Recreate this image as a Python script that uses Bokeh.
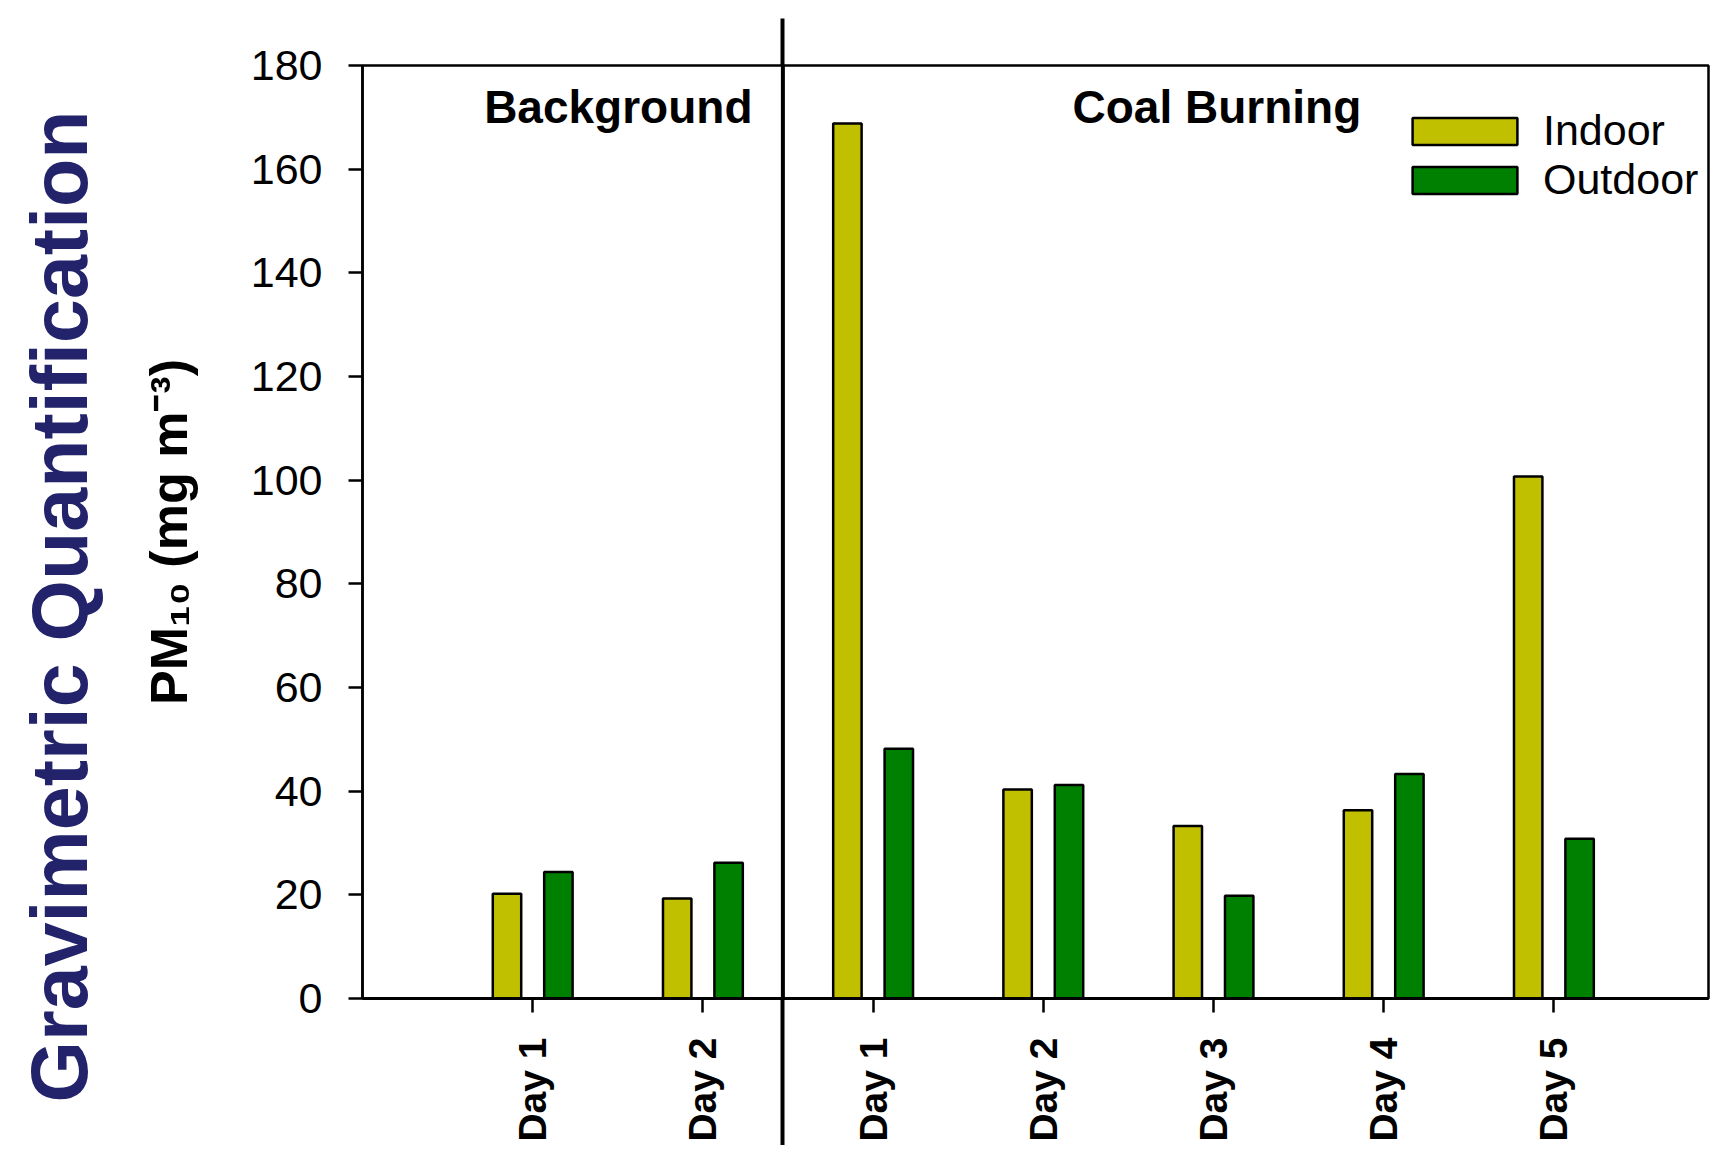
import math
from bokeh.plotting import figure
from bokeh.models import (Range1d, FixedTicker, Label, Legend, LegendItem, LinearAxis,
                          Span, Title)
from bokeh.embed import file_html
from bokeh.resources import INLINE

# ---- data ----
day_labels = ["Day 1", "Day 2", "Day 1", "Day 2", "Day 3", "Day 4", "Day 5"]
indoor = [20.2, 19.3, 168.8, 40.3, 33.3, 36.3, 100.7]
outdoor = [24.4, 26.2, 48.2, 41.2, 19.8, 43.3, 30.8]
series_names = ["Indoor", "Outdoor"]
series_colors = ["#C0C000", "#008000"]
y_ticks = [0, 20, 40, 60, 80, 100, 120, 140, 160, 180]
group_titles = ["Background", "Coal Burning"]
side_title = "Gravimetric Quantification"
y_label = "PM\u2081\u2080 (mg m\u207b\u00b3)"
divider_at = 2.47

positions = list(range(1, len(day_labels) + 1))

# ---- layout geometry ----
W, H = 1710, 1145
BL, BR, BT, BB = 362, 2, 65, 147
FW, FH = W - BL - BR, H - BT - BB
UNIT = 170.2
XMAX = FW / UNIT
YMAX = 180

p = figure(width=W, height=H, output_backend="svg", toolbar_location=None,
           x_range=Range1d(0, XMAX), y_range=Range1d(0, YMAX),
           min_border_left=BL, min_border_right=BR, min_border_top=BT,
           min_border_bottom=BB)
p.grid.visible = False
p.outline_line_color = "black"
p.outline_line_width = 2.5
p.background_fill_color = "white"
p.border_fill_color = "white"

off = 0.151
bw = 0.167
r_in = p.vbar(x=[v - off for v in positions], top=indoor, width=bw, bottom=0,
              fill_color=series_colors[0], line_color="black", line_width=2.5)
r_out = p.vbar(x=[v + off for v in positions], top=outdoor, width=bw, bottom=0,
               fill_color=series_colors[1], line_color="black", line_width=2.5)

# x axis (a long minor tick forms the lower part of the group divider)
TICK = 14
DIV_OUT = 147
ax = p.xaxis[0]
ax.ticker = FixedTicker(ticks=positions, minor_ticks=[divider_at])
ax.major_label_overrides = {v: l for v, l in zip(positions, day_labels)}
ax.major_label_orientation = math.pi / 2
ax.major_label_text_font = "Liberation Sans"
ax.major_label_text_font_style = "bold"
ax.major_label_text_font_size = "39px"
ax.major_label_text_color = "black"
ax.major_label_standoff = TICK + 25 - DIV_OUT
ax.major_tick_out = TICK
ax.major_tick_in = 0
ax.minor_tick_out = DIV_OUT
ax.minor_tick_in = 0
ax.minor_tick_line_width = 4
ax.minor_tick_line_color = "black"
ax.axis_line_width = 3
ax.major_tick_line_width = 2.5

# upper part of the divider: tick of an axis above the frame
top_ax = LinearAxis(ticker=FixedTicker(ticks=[divider_at]),
                    major_label_overrides={divider_at: ""},
                    major_label_text_font_size="1px", major_label_standoff=0,
                    major_tick_out=47, major_tick_in=0, major_tick_line_width=4,
                    major_tick_line_color="black", minor_tick_line_color=None,
                    minor_tick_out=0, axis_line_color=None)
p.add_layout(top_ax, "above")

# y axis with its label
ay = p.yaxis[0]
ay.ticker = FixedTicker(ticks=y_ticks)
ay.major_label_text_font = "Liberation Sans"
ay.major_label_text_font_size = "43px"
ay.major_label_text_color = "black"
ay.major_label_standoff = 26
ay.major_tick_out = TICK
ay.major_tick_in = 0
ay.minor_tick_line_color = None
ay.axis_line_width = 2.5
ay.major_tick_line_width = 2.5
ay.axis_label = y_label
ay.axis_label_text_font = "Liberation Sans"
ay.axis_label_text_font_style = "bold"
ay.axis_label_text_font_size = "52px"
ay.axis_label_text_color = "black"
ay.axis_label_standoff = 50

# blank spacer between the y label and the side title (one white, invisible tick)
spacer = LinearAxis(ticker=FixedTicker(ticks=[y_ticks[0]]),
                    major_label_overrides={y_ticks[0]: ""},
                    major_tick_out=33, major_tick_in=0,
                    minor_tick_out=0, major_label_standoff=0,
                    major_label_text_font_size="1px", major_label_text_color="white",
                    axis_line_color=None, major_tick_line_color="white",
                    minor_tick_line_color=None)
p.add_layout(spacer, "left")

# side title
p.add_layout(Title(text=side_title, align="left", offset=BT + FH - 1102, standoff=0,
                   vertical_align="bottom", text_font="Liberation Sans",
                   text_font_style="bold", text_font_size="79px",
                   text_color="#22236A"), "left")

# the divider inside the frame
p.add_layout(Span(location=divider_at, dimension="height", line_color="black", line_width=4))

# group titles (screen units relative to frame bottom-left)
p.add_layout(Label(x=752 - BL, y=FH + BT - 106, x_units="screen", y_units="screen",
                   text=group_titles[0], text_align="right",
                   text_baseline="alphabetic", text_font="Liberation Sans",
                   text_font_style="bold", text_font_size="46px", text_color="black"))
p.add_layout(Label(x=1072 - BL, y=FH + BT - 106, x_units="screen", y_units="screen",
                   text=group_titles[1], text_align="left",
                   text_baseline="alphabetic", text_font="Liberation Sans",
                   text_font_style="bold", text_font_size="46px", text_color="black"))

# legend
legend = Legend(items=[LegendItem(label=series_names[0], renderers=[r_in]),
                       LegendItem(label=series_names[1], renderers=[r_out])],
                location=(1037, 794), glyph_width=131, glyph_height=34,
                label_standoff=13, label_text_font="Liberation Sans",
                label_text_font_size="43px", label_text_color="black",
                spacing=0, padding=0, margin=0, border_line_color=None,
                background_fill_alpha=0)
p.add_layout(legend)

open("out.html", "w").write(file_html(p, INLINE))
